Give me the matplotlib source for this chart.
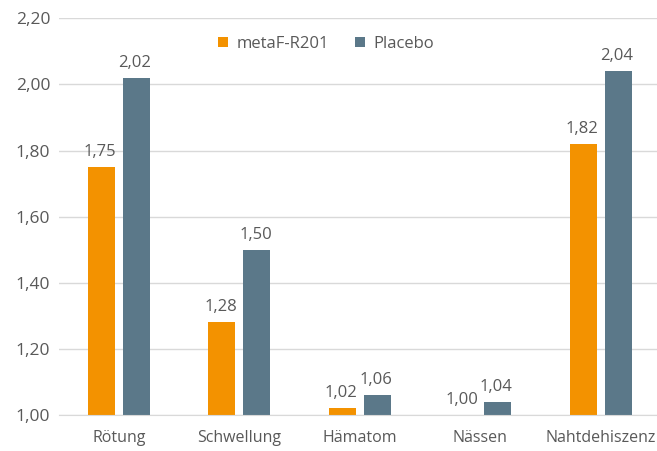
import matplotlib.pyplot as plt
import numpy as np

plt.rcParams['font.family'] = ['Open Sans', 'DejaVu Sans']

kategorien = ['Rötung', 'Schwellung', 'Hämatom', 'Nässen', 'Nahtdehiszenz']
metaf = [1.75, 1.28, 1.02, 1.00, 1.82]
placebo = [2.02, 1.50, 1.06, 1.04, 2.04]

orange = '#F39200'
blau = '#5B7889'
grau = '#595959'
groesse = 12.5

def komma(v):
    return ('%.2f' % v).replace('.', ',')

fig = plt.figure(figsize=(6.57, 4.51), dpi=100)
ax = fig.add_axes([58.75/657, 36/451, (661-58.75)/657, (415-18.3)/451])

x = np.arange(len(kategorien))
breite = 0.224
versatz = 0.145
b1 = ax.bar(x - versatz, [v - 1 for v in metaf], breite, bottom=1, color=orange, label='metaF-R201', zorder=3)
b2 = ax.bar(x + versatz, [v - 1 for v in placebo], breite, bottom=1, color=blau, label='Placebo', zorder=3)

# Werte über den Balken
for balken, werte in ((b1, metaf), (b2, placebo)):
    for r, v in zip(balken, werte):
        ax.annotate(komma(v), (r.get_x() + r.get_width()/2, v), xytext=(-1, 5),
                    textcoords='offset points', ha='center', va='bottom',
                    fontsize=12, color=grau)

ax.set_xlim(-0.5, 4.5)
ax.set_ylim(1.0, 2.2)
ax.set_yticks(np.arange(1.0, 2.21, 0.2))
ax.set_yticklabels([komma(v) for v in np.arange(1.0, 2.21, 0.2)])
ax.set_xticks(x)
ax.set_xticklabels(kategorien)
ax.tick_params(axis='both', length=0, labelcolor=grau)
ax.tick_params(axis='x', pad=11, labelsize=11.5)
ax.tick_params(axis='y', pad=6, labelsize=groesse)
ax.grid(axis='y', color='#D9D9D9', linewidth=1, zorder=0)
for s in ['top', 'right', 'left']:
    ax.spines[s].set_visible(False)
ax.spines['bottom'].set_color('#D9D9D9')
ax.spines['bottom'].set_zorder(4)

ax.legend(loc='upper center', bbox_to_anchor=((326 - 58.75)/602.25, 0.985), ncol=2, frameon=False,
          fontsize=12, labelcolor=grau, handlelength=0.6, handleheight=0.6,
          handletextpad=0.5, columnspacing=1.6, borderaxespad=0.3)

fig.savefig('out.png', dpi=100)
